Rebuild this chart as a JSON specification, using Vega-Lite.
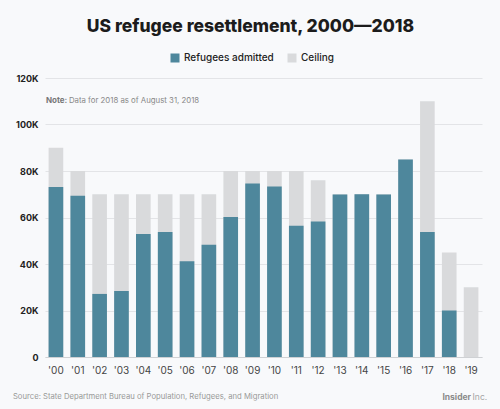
{
  "$schema": "https://vega.github.io/schema/vega-lite/v6.json",
  "width": 437,
  "height": 279,
  "autosize": {"type": "none"},
  "padding": {"left": 45, "top": 78, "right": 18, "bottom": 52},
  "background": "#f8f9fb",
  "title": {
    "text": "US refugee resettlement, 2000\u20142018",
    "font": "Inter",
    "fontSize": 17.5,
    "fontWeight": 800,
    "color": "#1c1c1c",
    "anchor": "middle",
    "dx": -13,
    "offset": 18
  },
  "config": {
    "view": {"stroke": null},
    "font": "Inter"
  },
  "datasets": {
    "main": [
      {"year": "'00", "ceiling": 90000, "admitted": 73147},
      {"year": "'01", "ceiling": 80000, "admitted": 69304},
      {"year": "'02", "ceiling": 70000, "admitted": 27131},
      {"year": "'03", "ceiling": 70000, "admitted": 28403},
      {"year": "'04", "ceiling": 70000, "admitted": 52873},
      {"year": "'05", "ceiling": 70000, "admitted": 53813},
      {"year": "'06", "ceiling": 70000, "admitted": 41223},
      {"year": "'07", "ceiling": 70000, "admitted": 48282},
      {"year": "'08", "ceiling": 80000, "admitted": 60191},
      {"year": "'09", "ceiling": 80000, "admitted": 74602},
      {"year": "'10", "ceiling": 80000, "admitted": 73311},
      {"year": "'11", "ceiling": 80000, "admitted": 56424},
      {"year": "'12", "ceiling": 76000, "admitted": 58238},
      {"year": "'13", "ceiling": 70000, "admitted": 69926},
      {"year": "'14", "ceiling": 70000, "admitted": 69987},
      {"year": "'15", "ceiling": 70000, "admitted": 69933},
      {"year": "'16", "ceiling": 85000, "admitted": 84994},
      {"year": "'17", "ceiling": 110000, "admitted": 53716},
      {"year": "'18", "ceiling": 45000, "admitted": 20000},
      {"year": "'19", "ceiling": 30000}
    ],
    "notes": [
      {"year": "'00", "y": 110300, "label": "Note:", "kind": "bold"},
      {"year": "'00", "y": 110300, "label": "Data for 2018 as of August 31, 2018", "kind": "normal"}
    ],
    "footer": [
      {"year": "'00", "y": -17100, "label": "Source: State Department Bureau of Population, Refugees, and Migration"}
    ],
    "brand": [
      {"year": "'19", "y": -17100, "a": "Insider", "b": "Inc."}
    ]
  },
  "layer": [
    {
      "data": {"name": "main"},
      "mark": {"type": "bar", "color": "#d9dadc"},
      "encoding": {
        "x": {
          "field": "year", "type": "nominal", "sort": null,
          "scale": {"paddingInner": 0.33, "paddingOuter": 0.165},
          "axis": {
            "title": null, "domain": true, "domainColor": "#cfd1d4", "ticks": false,
            "labelAngle": 0, "labelFont": "Inter", "labelFontSize": 10,
            "labelColor": "#444444", "labelPadding": 8
          }
        },
        "y": {
          "field": "ceiling", "type": "quantitative",
          "scale": {"domain": [0, 120000]},
          "axis": {
            "title": null, "domain": false, "ticks": false,
            "values": [0, 20000, 40000, 60000, 80000, 100000, 120000],
            "labelExpr": "datum.value == 0 ? '0' : (datum.value / 1000) + 'K'",
            "labelFont": "Inter", "labelFontSize": 9, "labelFontWeight": "bold",
            "labelColor": "#222222", "labelPadding": 7,
            "gridColor": "#e3e4e7", "gridWidth": 1
          }
        },
        "color": {
          "datum": "Ceiling",
          "scale": {"domain": ["Refugees admitted", "Ceiling"], "range": ["#4e879c", "#d9dadc"]},
          "legend": {
            "title": null, "orient": "none", "direction": "horizontal",
            "legendX": 125, "legendY": -25,
            "symbolType": "square", "symbolSize": 81, "symbolStrokeWidth": 0,
            "symbolOffset": 0, "labelOffset": 4,
            "labelFont": "Inter", "labelFontSize": 10, "labelFontWeight": 500,
            "labelColor": "#222222", "columnPadding": 13
          }
        }
      }
    },
    {
      "data": {"name": "main"},
      "mark": {"type": "bar"},
      "encoding": {
        "x": {"field": "year", "type": "nominal", "sort": null},
        "y": {"field": "admitted", "type": "quantitative"},
        "color": {"datum": "Refugees admitted"}
      }
    },
    {
      "data": {"name": "notes"},
      "transform": [{"filter": "datum.kind == 'bold'"}],
      "mark": {"type": "text", "align": "left", "baseline": "middle", "fontSize": 8, "fontWeight": "bold", "color": "#777777", "dx": -10, "font": "Inter"},
      "encoding": {
        "x": {"field": "year", "type": "nominal", "sort": null},
        "y": {"field": "y", "type": "quantitative"},
        "text": {"field": "label"}
      }
    },
    {
      "data": {"name": "notes"},
      "transform": [{"filter": "datum.kind == 'normal'"}],
      "mark": {"type": "text", "align": "left", "baseline": "middle", "fontSize": 7.8, "color": "#888888", "dx": 13, "font": "Inter"},
      "encoding": {
        "x": {"field": "year", "type": "nominal", "sort": null},
        "y": {"field": "y", "type": "quantitative"},
        "text": {"field": "label"}
      }
    },
    {
      "data": {"name": "footer"},
      "mark": {"type": "text", "align": "left", "baseline": "middle", "fontSize": 7.7, "color": "#999999", "dx": -43, "font": "Inter"},
      "encoding": {
        "x": {"field": "year", "type": "nominal", "sort": null},
        "y": {"field": "y", "type": "quantitative"},
        "text": {"field": "label"}
      }
    },
    {
      "data": {"name": "brand"},
      "mark": {"type": "text", "align": "right", "baseline": "middle", "fontSize": 8.5, "fontWeight": "bold", "color": "#8a8a8a", "dx": 0, "font": "Inter"},
      "encoding": {
        "x": {"field": "year", "type": "nominal", "sort": null},
        "y": {"field": "y", "type": "quantitative"},
        "text": {"field": "a"}
      }
    },
    {
      "data": {"name": "brand"},
      "mark": {"type": "text", "align": "left", "baseline": "middle", "fontSize": 8.5, "color": "#a5a5a5", "dx": 1.5, "font": "Inter"},
      "encoding": {
        "x": {"field": "year", "type": "nominal", "sort": null},
        "y": {"field": "y", "type": "quantitative"},
        "text": {"field": "b"}
      }
    }
  ]
}
